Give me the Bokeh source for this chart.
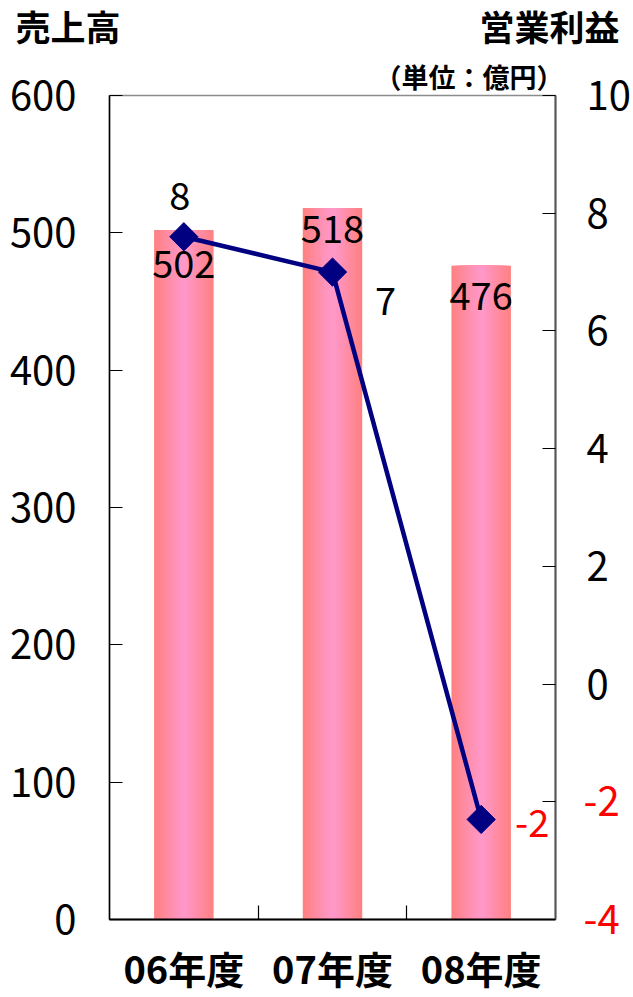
import numpy as np
from bokeh.plotting import figure
from bokeh.layouts import column
from bokeh.models import Range1d, LinearAxis, FixedTicker, ColumnDataSource, LabelSet, Title
from bokeh.core.properties import value
from bokeh.embed import file_html
from bokeh.resources import INLINE

# ---------------- data ----------------
categories = ["06年度", "07年度", "08年度"]
sales = [502, 518, 476]              # 売上高 (left axis, 億円)
profit = [7.6, 7.0, -2.3]            # 営業利益 (right axis, 億円)
profit_labels = ["8", "7", "-2"]
sales_labels = ["502", "518", "476"]
sales_ticks = [0, 100, 200, 300, 400, 500, 600]
profit_ticks = [-4, -2, 0, 2, 4, 6, 8, 10]
red_profit_ticks = [-2, -4]
title_left = "売上高"
title_right = "営業利益"
unit_text = "（単位：億円）"

# ---------------- styles / layout ----------------
JP = "Noto Sans CJK JP"
NAVY = "#000080"
EDGE = (255, 128, 128)
CENTER = (255, 153, 204)
BAR_W = 0.4
W = 633
HEAD_H, MAIN_H = 52, 945
BL, BR, BT, BB = 109, 78, 43, 78
sales_dy = [-34, -21, -30]
profit_dx = [-4, 53, 51]
profit_dy = [41, -29, -4]
TICK_FS = "40px"
R_STANDOFF = 28
RED_LABEL_W = 42   # layout width of the widest red tick label ("-4")

x = [i + 0.5 for i in range(len(categories))]
bounds = [i for i in range(1, len(categories))]

src = ColumnDataSource(dict(
    x=x, sales=sales, profit=profit, plabel=profit_labels, slabel=sales_labels,
    cat=categories, sdy=sales_dy, pdx=profit_dx, pdy=profit_dy,
    pcolor=["red" if v < 0 else "black" for v in profit],
))

def bare(width, height, **kw):
    f = figure(width=width, height=height, x_axis_type=None, y_axis_type=None,
               output_backend="svg", toolbar_location=None, **kw)
    f.outline_line_color = None
    f.background_fill_color = "white"
    f.border_fill_color = "white"
    return f

# ---------------- header ----------------
head = bare(W, HEAD_H, x_range=Range1d(0, W), y_range=Range1d(HEAD_H, 0),
            min_border_left=0, min_border_right=0, min_border_top=0, min_border_bottom=0)
head.frame_align = False
head.text(x=[15], y=[25], text=[title_left], text_align="left", text_baseline="middle",
          text_font=value(JP), text_font_size="35px", text_font_style="bold", text_color="black")
head.text(x=[W - 14], y=[25], text=[title_right], text_align="right", text_baseline="middle",
          text_font=value(JP), text_font_size="35px", text_font_style="bold", text_color="black")

# ---------------- main chart ----------------
p = bare(W, MAIN_H,
         x_range=Range1d(0, len(categories)),
         y_range=Range1d(sales_ticks[0], sales_ticks[-1]),
         min_border_left=BL, min_border_right=BR, min_border_top=BT, min_border_bottom=BB)
p.extra_y_ranges = {"profit": Range1d(profit_ticks[0], profit_ticks[-1])}
p.outline_line_color = "#8c8c8c"
p.outline_line_width = 1.5

p.add_layout(Title(text=unit_text, align="right", offset=-8, standoff=0,
                   text_font=JP, text_font_size="27px", text_font_style="bold",
                   text_color="black"), "above")

left = LinearAxis(ticker=FixedTicker(ticks=sales_ticks),
                  major_tick_in=13, major_tick_out=0, minor_tick_line_color=None,
                  axis_line_color="black", axis_line_width=1.5,
                  major_tick_line_color="black", major_tick_line_width=1.2,
                  major_label_standoff=33,
                  major_label_text_font=JP, major_label_text_font_size=TICK_FS,
                  major_label_text_color="black")
p.add_layout(left, "left")

# right axis 1: line, ticks and the red (negative) labels
right_red = LinearAxis(y_range_name="profit", ticker=FixedTicker(ticks=profit_ticks),
                       major_tick_in=13, major_tick_out=0, minor_tick_line_color=None,
                       axis_line_color="#555555", axis_line_width=2,
                       major_tick_line_color="black", major_tick_line_width=1.2,
                       major_label_standoff=R_STANDOFF,
                       major_label_overrides={t: (str(t) if t in red_profit_ticks else "")
                                              for t in profit_ticks},
                       major_label_text_font=JP, major_label_text_font_size=TICK_FS,
                       major_label_text_color="red")
p.add_layout(right_red, "right")
# right axis 2: the black labels, pulled back onto the same column
right_blk = LinearAxis(y_range_name="profit", ticker=FixedTicker(ticks=profit_ticks),
                       major_tick_line_color=None, minor_tick_line_color=None,
                       axis_line_color=None,
                       major_label_standoff=-RED_LABEL_W,
                       major_label_overrides={t: "" for t in red_profit_ticks},
                       major_label_text_font=JP, major_label_text_font_size=TICK_FS,
                       major_label_text_color="black")
p.add_layout(right_blk, "right")

# category axis: labels at bar centres, short ticks at category boundaries
bottom = LinearAxis(ticker=FixedTicker(ticks=x, minor_ticks=bounds),
                    major_tick_line_color=None,
                    minor_tick_in=14, minor_tick_out=0,
                    minor_tick_line_color="black", minor_tick_line_width=1.2,
                    axis_line_color="black", axis_line_width=2,
                    major_label_standoff=14,
                    major_label_overrides={xi: c for xi, c in zip(x, categories)},
                    major_label_text_font=JP, major_label_text_font_size="38px",
                    major_label_text_font_style="bold", major_label_text_color="black")
p.add_layout(bottom, "below")

# gradient bars (nested layers, salmon edges -> pink centre)
N = 14
for k in range(N):
    t = (k + 0.5) / N
    c = tuple(int(round(EDGE[i] + (CENTER[i] - EDGE[i]) * t)) for i in range(3))
    p.vbar(x="x", top="sales", bottom=0, width=BAR_W * (1 - k / N), source=src,
           fill_color="#%02x%02x%02x" % c, line_color=None)

p.line("x", "profit", source=src, y_range_name="profit", line_color=NAVY, line_width=4.5)
p.scatter("x", "profit", source=src, y_range_name="profit", marker="square",
          angle=np.pi / 4, size=20, fill_color=NAVY, line_color=NAVY)

p.add_layout(LabelSet(x="x", y="sales", text="slabel", source=src, y_offset="sdy",
                      text_align="center", text_baseline="middle",
                      text_font=value(JP), text_font_size=value("38px"),
                      text_color="black"))
p.add_layout(LabelSet(x="x", y="profit", text="plabel", source=src, y_range_name="profit",
                      x_offset="pdx", y_offset="pdy",
                      text_align="center", text_baseline="middle",
                      text_font=value(JP), text_font_size=value("38px"),
                      text_color="pcolor"))

layout = column(head, p, spacing=0)
open("out.html", "w").write(file_html(layout, INLINE))
